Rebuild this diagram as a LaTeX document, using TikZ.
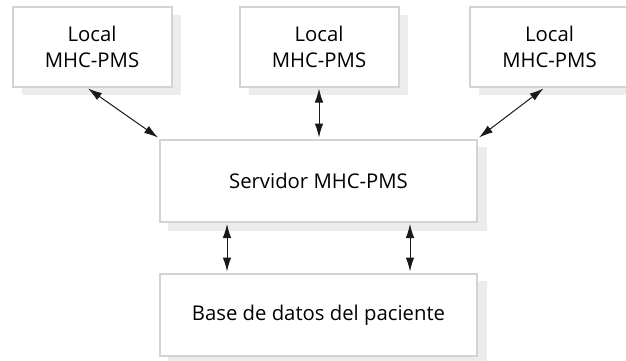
\documentclass[tikz,border=0pt]{standalone}
\usepackage{fontspec}
\setmainfont{Open Sans}
\usetikzlibrary{arrows.meta,calc}
\tikzset{
  x=1pt,y=-1pt,
  boxnode/.style={draw=boxline,line width=2pt,fill=white,align=center,inner sep=0pt,font=\fontsize{20.3}{25.5}\selectfont,text=black},
  link/.style={line width=1pt,draw=black!90,{Latex[length=14pt,width=8.5pt]}-{Latex[length=14pt,width=8.5pt]}}
}
\definecolor{boxline}{HTML}{D2D3D5}
\definecolor{shadowc}{HTML}{ECECED}
\begin{document}
\begin{tikzpicture}
\useasboundingbox (0,0) rectangle (626,361);
\clip (0,0) rectangle (626,361);
\fill[shadowc] (22,15) rectangle (181,95);
\fill[shadowc] (249,15) rectangle (408,95);
\fill[shadowc] (479,15) rectangle (640,95);
\fill[shadowc] (168,147) rectangle (487,231);
\fill[shadowc] (168,281) rectangle (487,370);
\node[boxnode,minimum width=159pt,minimum height=80pt] (l1) at (92,47) {Local\\MHC-PMS};
\node[boxnode,minimum width=159pt,minimum height=80pt] (l2) at (319,47) {Local\\MHC-PMS};
\node[boxnode,minimum width=159pt,minimum height=80pt] (l3) at (549.5,47) {Local\\MHC-PMS};
\node[boxnode,minimum width=317pt,minimum height=82pt] (srv) at (318.5,181) {Servidor MHC-PMS};
\node[boxnode,minimum width=317pt,minimum height=82pt] (db) at (318.5,315) {Base de datos del paciente};
\draw[link] ($(l1.south)+(-4,0.5)$) -- ($(srv.north west)+(-1,-1.5)$);
\draw[link] ($(l2.south)+(0,0.5)$) -- ($(srv.north)+(0.5,-1.5)$);
\draw[link] ($(l3.south)+(-6,0.5)$) -- ($(srv.north east)+(1,-1.5)$);
\draw[link] ($(srv.south west)+(68,1)$) -- ($(db.north west)+(68,-1.5)$);
\draw[link] ($(srv.south west)+(251,1)$) -- ($(db.north west)+(251,-1.5)$);
\end{tikzpicture}
\end{document}
